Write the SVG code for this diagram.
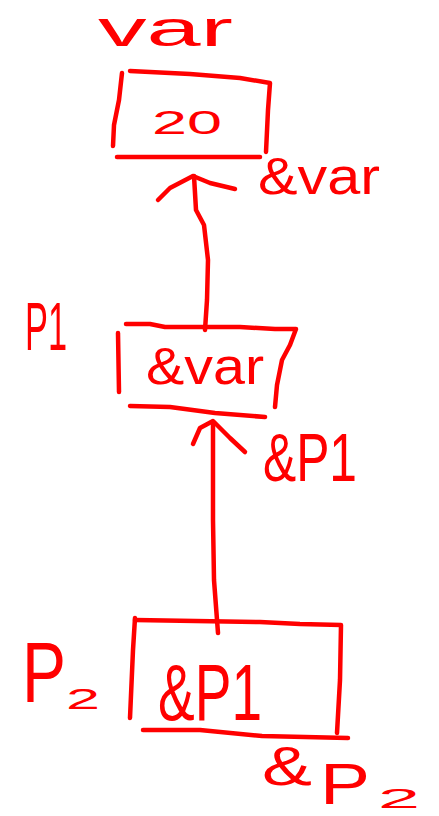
<svg xmlns="http://www.w3.org/2000/svg" width="439" height="816" viewBox="0 0 439 816">
<style>
.s{fill:none;stroke:#ff0000;stroke-width:4.5;stroke-linecap:round;stroke-linejoin:round}
.t{fill:#ff0000;font-family:"Liberation Sans","DejaVu Sans",sans-serif}
</style>
<rect width="439" height="816" fill="#ffffff"/>
<g id="label-var"><text class="t" x="98" y="46" font-size="50" textLength="135" lengthAdjust="spacingAndGlyphs">var</text></g>
<g id="node-20">
<path class="s" d="M122 73 L119 100 L114 125 L113 146"/>
<path class="s" d="M130 71 L190 74 L240 78 L270 83 L268 110 L266 152"/>
<path class="s" d="M117 157 L260 157"/>
<text class="t" x="152" y="134" font-size="33" textLength="70" lengthAdjust="spacingAndGlyphs">20</text>
</g>
<g id="label-addr-var"><text class="t" x="258" y="194" font-size="52" textLength="122" lengthAdjust="spacingAndGlyphs">&amp;var</text></g>
<g id="label-p1"><text class="t" x="25" y="350" font-size="68" textLength="42" lengthAdjust="spacingAndGlyphs">P1</text></g>
<g id="node-addr-var">
<path class="s" d="M118 333 L119 392"/>
<path class="s" d="M126 324 L150 324 L165 327 L240 327 L275 329 L296 329 L290 345 L282 360 L277 385 L275 407"/>
<path class="s" d="M130 406 L170 407 L215 413 L265 417"/>
<text class="t" x="146" y="384" font-size="52" textLength="118" lengthAdjust="spacingAndGlyphs">&amp;var</text>
</g>
<g id="label-addr-p1"><text class="t" x="263" y="481" font-size="68" textLength="94" lengthAdjust="spacingAndGlyphs">&amp;P1</text></g>
<g id="label-p2"><text class="t"><tspan x="22" y="702" font-size="86" textLength="44" lengthAdjust="spacingAndGlyphs">P</tspan><tspan x="66" y="709" font-size="30" textLength="34" lengthAdjust="spacingAndGlyphs">2</tspan></text></g>
<g id="node-addr-p1">
<path class="s" d="M135 618 L133 650 L130 718"/>
<path class="s" d="M135 620 L260 622 L300 624 L341 625 L340 680 L337 733"/>
<path class="s" d="M143 730 L200 730 L262 736 L348 738"/>
<text class="t" x="158" y="720" font-size="80" textLength="104" lengthAdjust="spacingAndGlyphs">&amp;P1</text>
</g>
<g id="label-addr-p2"><text class="t"><tspan x="262" y="785" font-size="56" textLength="50" lengthAdjust="spacingAndGlyphs">&amp;</tspan><tspan x="320" y="804" font-size="58" textLength="50" lengthAdjust="spacingAndGlyphs">P</tspan><tspan x="378" y="808" font-size="28" textLength="42" lengthAdjust="spacingAndGlyphs">2</tspan></text></g>
<g id="connectors">
<path class="s" d="M205 330 L207 300 L208 260 L204 225 L196 210 L194 176"/>
<path class="s" d="M158 200 L170 188 L193 176 L210 183 L235 189"/>
<path class="s" d="M218 633 L214 580 L213 520 L213 423"/>
<path class="s" d="M193 444 L200 428 L213 421 L230 438 L245 452"/>
</g>
</svg>
